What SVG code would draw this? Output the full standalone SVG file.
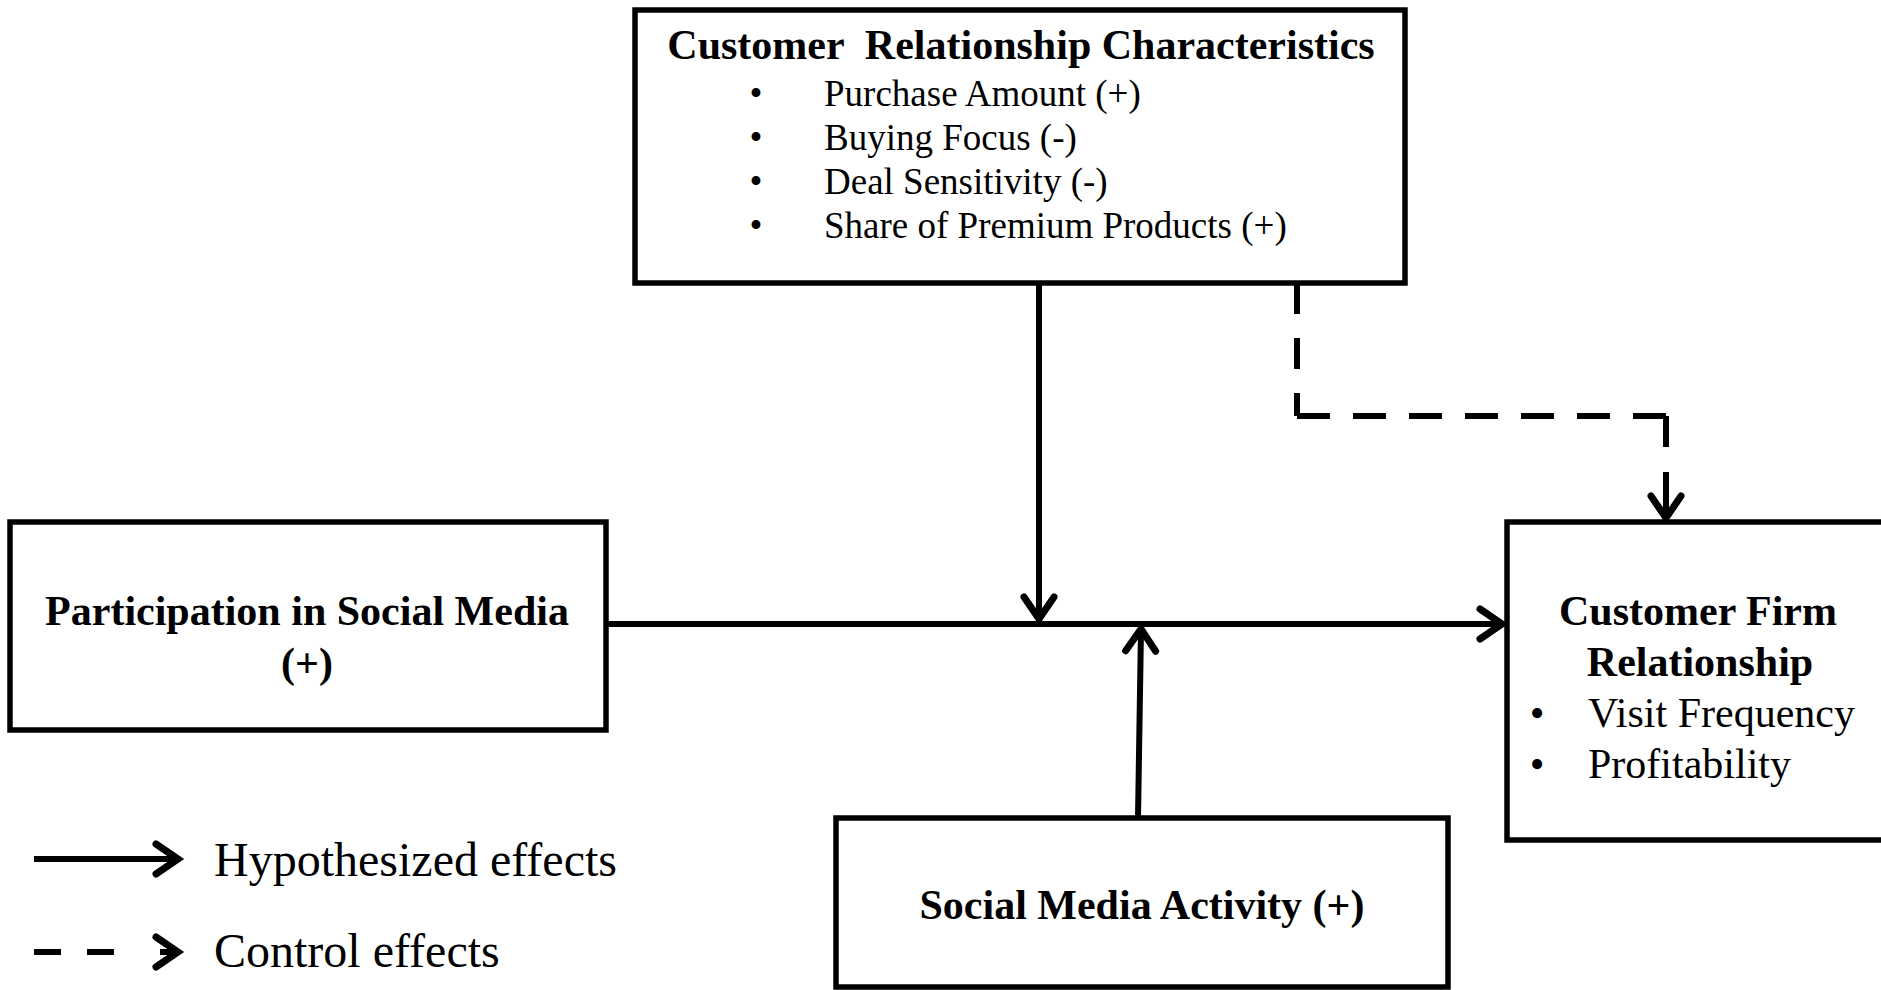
<svg xmlns="http://www.w3.org/2000/svg" width="1881" height="990" viewBox="0 0 1881 990">
<style>
.box{fill:#fff;stroke:#000;stroke-width:5.5}
.b{font-family:"Liberation Serif","Times New Roman",serif;font-weight:bold;font-size:42px;fill:#000}
.r{font-family:"Liberation Serif","Times New Roman",serif;font-size:42px;fill:#000}
.s{font-family:"Liberation Serif","Times New Roman",serif;font-size:37px;fill:#000}
.lg{font-family:"Liberation Serif","Times New Roman",serif;font-size:48px;fill:#000}
.ln{fill:none;stroke:#000;stroke-width:6}
</style>
<defs>
<marker id="ah" markerUnits="userSpaceOnUse" orient="auto" refX="0" refY="0" markerWidth="40" markerHeight="40" viewBox="-30 -20 40 40" overflow="visible">
<path d="M-22 -15 L0 0 L-22 15" fill="none" stroke="#000" stroke-width="7" stroke-linecap="round" stroke-linejoin="miter"/>
</marker>
</defs>
<rect width="1881" height="990" fill="#fff"/>
<g id="connectors">
<line class="ln" x1="606" y1="624" x2="1502" y2="624" marker-end="url(#ah)"/>
<line class="ln" x1="1039" y1="283" x2="1039" y2="619" marker-end="url(#ah)"/>
<line class="ln" x1="1138" y1="818" x2="1141" y2="629" marker-end="url(#ah)"/>
<line class="ln" x1="1297" y1="283" x2="1297" y2="416" stroke-dasharray="31 24"/>
<line class="ln" x1="1297" y1="416" x2="1666" y2="416" stroke-dasharray="33 23"/>
<line class="ln" x1="1666" y1="416" x2="1666" y2="447"/>
<line class="ln" x1="1666" y1="472" x2="1666" y2="518" marker-end="url(#ah)"/>
</g>
<g id="top">
<rect class="box" x="635" y="10" width="770" height="273"/>
<text class="b" x="1021" y="59" text-anchor="middle" xml:space="preserve">Customer  Relationship Characteristics</text>
<text class="s" x="756" y="106" text-anchor="middle">•</text>
<text class="s" x="824" y="106">Purchase Amount (+)</text>
<text class="s" x="756" y="150" text-anchor="middle">•</text>
<text class="s" x="824" y="150">Buying Focus (-)</text>
<text class="s" x="756" y="194" text-anchor="middle">•</text>
<text class="s" x="824" y="194">Deal Sensitivity (-)</text>
<text class="s" x="756" y="238" text-anchor="middle">•</text>
<text class="s" x="824" y="238">Share of Premium Products (+)</text>
</g>
<g id="left">
<rect class="box" x="10" y="522" width="596" height="208"/>
<text class="b" x="307" y="625" text-anchor="middle">Participation in Social Media</text>
<text class="b" x="307" y="677" text-anchor="middle">(+)</text>
</g>
<g id="right">
<rect class="box" x="1507" y="522" width="390" height="318"/>
<text class="b" x="1698" y="625" text-anchor="middle">Customer Firm</text>
<text class="b" x="1700" y="676" text-anchor="middle">Relationship</text>
<text class="r" x="1537" y="727" text-anchor="middle">•</text>
<text class="r" x="1588" y="727">Visit Frequency</text>
<text class="r" x="1537" y="778" text-anchor="middle">•</text>
<text class="r" x="1588" y="778">Profitability</text>
</g>
<g id="bottom">
<rect class="box" x="836" y="818" width="612" height="169"/>
<text class="b" x="1142" y="919" text-anchor="middle">Social Media Activity (+)</text>
</g>
<g id="legend">
<line class="ln" x1="34" y1="859" x2="178" y2="859" marker-end="url(#ah)"/>
<text class="lg" x="214" y="876">Hypothesized effects</text>
<line class="ln" x1="34" y1="952" x2="114" y2="952" stroke-dasharray="27 26"/>
<line class="ln" x1="160" y1="952" x2="178" y2="952" marker-end="url(#ah)"/>
<text class="lg" x="214" y="967">Control effects</text>
</g>
</svg>
